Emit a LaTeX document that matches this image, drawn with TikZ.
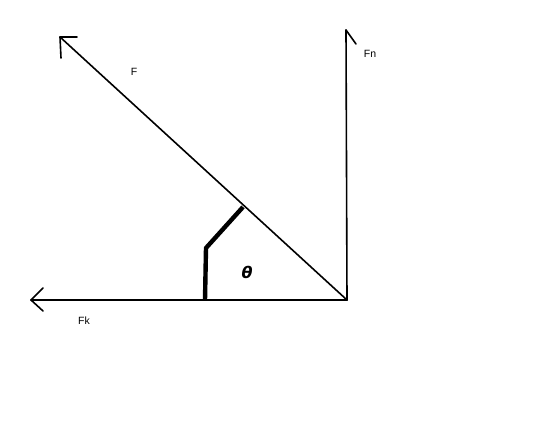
\documentclass[tikz,border=0pt]{standalone}
\usepackage{fontspec}
\setmainfont{Liberation Sans}
\newfontfamily\thetafont{DejaVu Sans}
\begin{document}
\begin{tikzpicture}[x=1pt,y=-1pt,
  vec/.style={line width=1.6pt,line cap=round,line join=round},
  marker/.style={line width=4.4pt,line join=round},
  lbl/.style={font=\fontsize{10.5}{12}\selectfont,inner sep=0pt}]
\useasboundingbox[fill=white] (0,0) rectangle (541,443);
\coordinate (O) at (347,300);
\coordinate (Ftip) at (60,37);
\coordinate (Fntip) at (346,30);
\coordinate (Fktip) at (31,300);
\draw[vec] (O) -- (Ftip);
\draw[vec] (61,58) -- (Ftip) -- (77,37);
\draw[vec] (O) -- (Fntip);
\draw[vec] (Fntip) -- (356,44);
\draw[vec] (O) -- (Fktip);
\draw[vec] (43,288) -- (Fktip) -- (43,311);
\coordinate (m1) at (205,300);
\coordinate (m2) at (206,248);
\coordinate (m3) at (243,207);
\draw[marker] (m1) -- (m2) -- (m3);
\node[lbl] (lF) at (134,72) {F};
\node[lbl] (lFn) at (370,54) {Fn};
\node[lbl] (lFk) at (84,321) {Fk};
\node[inner sep=0pt,font=\thetafont\bfseries\itshape\fontsize{16}{18}\selectfont] (th) at (247,272) {θ};
\end{tikzpicture}
\end{document}
